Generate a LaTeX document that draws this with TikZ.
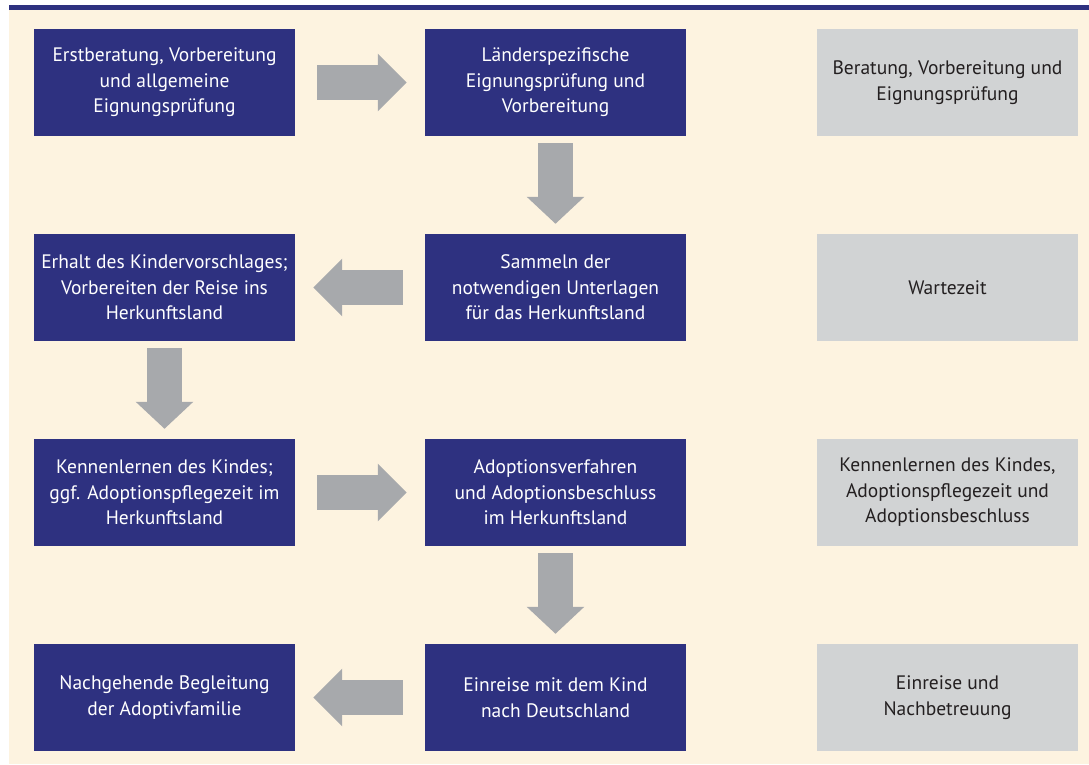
\documentclass[tikz,border=0pt]{standalone}
\usepackage{fontspec}
\setmainfont{PT Sans}
\usetikzlibrary{arrows.meta, positioning}
\definecolor{navyblue}{RGB}{46, 49, 128}
\definecolor{creambg}{RGB}{253, 243, 224}
\definecolor{boxgray}{RGB}{209, 211, 212}
\definecolor{arrowgray}{RGB}{167, 169, 172}
\definecolor{textdark}{RGB}{35, 31, 32}

\begin{document}
\begin{tikzpicture}[
    x=1pt, y=-1pt,
    step box/.style={rectangle, minimum width=261pt, minimum height=107pt, inner sep=0pt, align=center, fill=navyblue, text=white, font=\fontsize{19.5}{25.5}\selectfont},
    phase box/.style={rectangle, minimum width=261pt, minimum height=107pt, inner sep=0pt, align=center, fill=boxgray, text=textdark, font=\fontsize{19.5}{25.5}\selectfont},
    flow arrow/.style={draw=arrowgray, line width=35pt, -{Triangle[width=56pt, length=29pt]}, shorten <=22pt, shorten >=18pt},
    down arrow/.style={draw=arrowgray, line width=35pt, -{Triangle[width=56pt, length=27pt]}, shorten <=7pt, shorten >=10pt}
]

\useasboundingbox (0,0) rectangle (1089,764);
\fill[creambg] (9,10) rectangle (1089,764);
\fill[navyblue] (9,5) rectangle (1089,10);

% Process steps
\node (beratung) [step box] at (164.5,82.5) {Erstberatung, Vorbereitung\\und allgemeine\\Eignungspr\"ufung};
\node (laender) [step box] at (555.5,82.5) {L\"anderspezifische\\Eignungspr\"ufung und\\Vorbereitung};
\node (sammeln) [step box] at (555.5,287.5) {Sammeln der\\notwendigen Unterlagen\\f\"ur das Herkunftsland};
\node (vorschlag) [step box] at (164.5,287.5) {Erhalt des Kindervorschlages;\\Vorbereiten der Reise ins\\Herkunftsland};
\node (kennenlernen) [step box] at (164.5,492.5) {Kennenlernen des Kindes;\\ggf. Adoptionspflegezeit im\\Herkunftsland};
\node (verfahren) [step box] at (555.5,492.5) {Adoptionsverfahren\\und Adoptionsbeschluss\\im Herkunftsland};
\node (einreise) [step box] at (555.5,697.5) {Einreise mit dem Kind\\nach Deutschland};
\node (begleitung) [step box] at (164.5,697.5) {Nachgehende Begleitung\\der Adoptivfamilie};

% Phases
\node (phase_vorbereitung) [phase box] at (947.5,82.5) {Beratung, Vorbereitung und\\Eignungspr\"ufung};
\node (phase_warten) [phase box] at (947.5,287.5) {Wartezeit};
\node (phase_adoption) [phase box] at (947.5,492.5) {Kennenlernen des Kindes,\\Adoptionspflegezeit und\\Adoptionsbeschluss};
\node (phase_nach) [phase box] at (947.5,697.5) {Einreise und\\Nachbetreuung};

% Arrows
\draw [flow arrow] (beratung) -- (laender);
\draw [down arrow] (laender) -- (sammeln);
\draw [flow arrow] (sammeln) -- (vorschlag);
\draw [down arrow] (vorschlag) -- (kennenlernen);
\draw [flow arrow] (kennenlernen) -- (verfahren);
\draw [down arrow] (verfahren) -- (einreise);
\draw [flow arrow] (einreise) -- (begleitung);

\end{tikzpicture}
\end{document}
